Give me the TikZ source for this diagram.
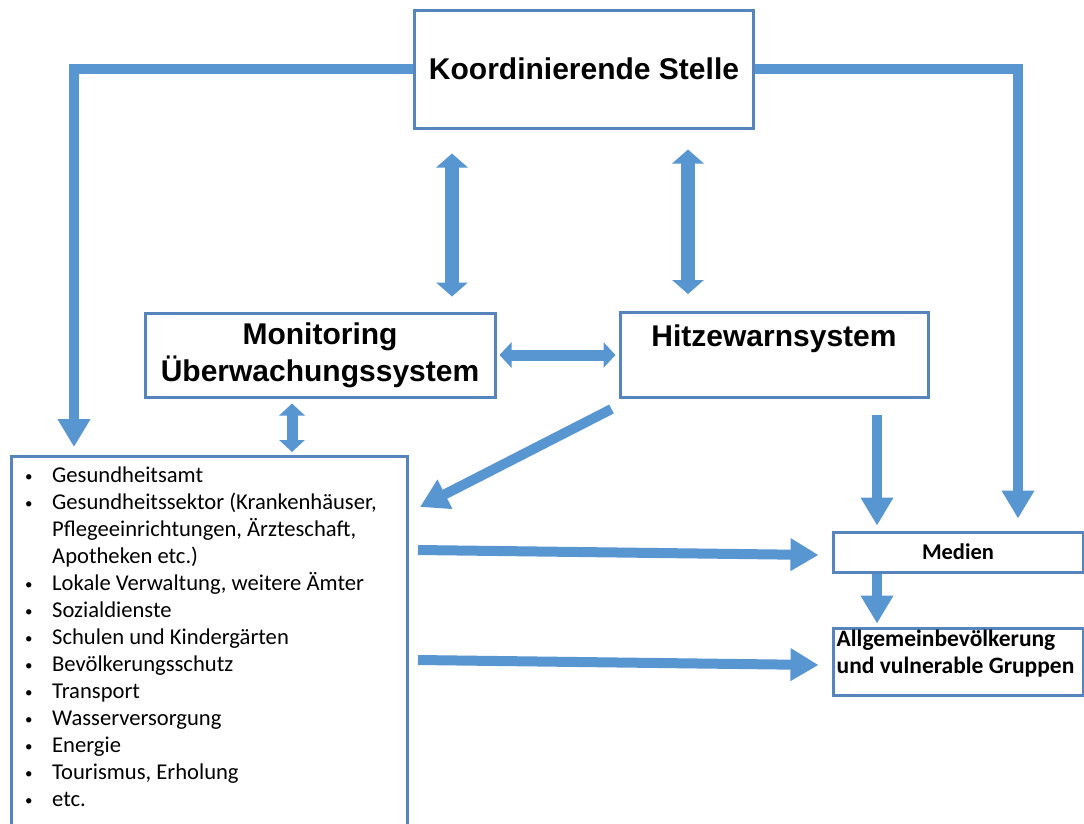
\documentclass[tikz,border=0pt]{standalone}
\usepackage{fontspec}
\usetikzlibrary{arrows.meta}
\newfontfamily\headfont{Liberation Sans}
\newfontfamily\listfont{Carlito}
\definecolor{arrowblue}{RGB}{88,150,210}
\definecolor{boxblue}{RGB}{86,132,188}
\newcommand{\blt}{\makebox[29pt][l]{\hspace*{2pt}\raisebox{1.5pt}{\fontsize{15}{15}\selectfont\textbullet}}}

\begin{document}
\begin{tikzpicture}[x=1pt,y=-1pt,
  box/.style={draw=boxblue,line width=3pt,fill=white,inner sep=0pt},
  flow/.style={draw=arrowblue,line width=10pt,-{Triangle[width=31pt,length=28pt]}},
  twoway/.style={draw=arrowblue,line width=14pt,{Triangle[width=31pt,length=14pt]}-{Triangle[width=31pt,length=14pt]}},
  narrow/.style={line width=11pt,{Triangle[width=25pt,length=12pt]}-{Triangle[width=25pt,length=12pt]}}]
\useasboundingbox (0,0) rectangle (1084,823);
\fill[white] (0,0) rectangle (1084,823);
% boxes:
\node[box,minimum width=339pt,minimum height=118pt,font=\headfont\bfseries\fontsize{30}{37}\selectfont] (koord) at (584,69) {Koordinierende Stelle};
\node[box,minimum width=350pt,minimum height=84pt,align=center,font=\headfont\bfseries\fontsize{30}{37}\selectfont] (mon) at (320,355) {Monitoring\\Überwachungssystem};
\node[box,minimum width=308pt,minimum height=85pt,text depth=38pt,font=\headfont\bfseries\fontsize{30}{37}\selectfont] (hitze) at (774,355) {Hitzewarnsystem};
\node[box,anchor=north west,minimum width=396pt,minimum height=390pt] (list) at (10,455) {};
\node[anchor=north west,inner sep=0pt,align=left,font=\listfont\fontsize{22.6}{27}\selectfont] (listtxt) at ([shift={(13,12)}]list.north west) {%
\blt Gesundheitsamt\\
\blt Gesundheitssektor (Krankenhäuser,\\
\hspace*{29pt}Pflegeeinrichtungen, Ärzteschaft,\\
\hspace*{29pt}Apotheken etc.)\\
\blt Lokale Verwaltung, weitere Ämter\\
\blt Sozialdienste\\
\blt Schulen und Kindergärten\\
\blt Bevölkerungsschutz\\
\blt Transport\\
\blt Wasserversorgung\\
\blt Energie\\
\blt Tourismus, Erholung\\
\blt etc.};
\node[box,minimum width=250pt,minimum height=40pt,font=\listfont\bfseries\fontsize{22.5}{27}\selectfont] (medien) at (958,552) {Medien};
\node[box,minimum width=250pt,minimum height=67pt] (allg) at (958,661.5) {};
\node[anchor=north west,inner sep=0pt,align=left,font=\listfont\bfseries\fontsize{23.5}{27}\selectfont] (allgtxt) at ([shift={(5,3)}]allg.north west) {Allgemeinbevölkerung\\und vulnerable Gruppen};
% arrow columns:
\coordinate (lcol) at (74,0);
\coordinate (rcol) at (1018,0);
\coordinate (kmcol) at (452,0);
\coordinate (khcol) at (688,0);
\coordinate (mlcol) at (292,0);
\coordinate (mcol) at (877,0);
% arrows:
\draw[flow,shorten >=8pt] (koord.west) -| (list.north -| lcol);
\draw[flow,shorten >=12pt] (koord.east) -| (medien.north -| rcol);
\draw[twoway,shorten <=24pt,shorten >=15pt] (koord.south -| kmcol) -- (mon.north -| kmcol);
\draw[twoway,shorten <=20pt,shorten >=17pt] (koord.south -| khcol) -- (hitze.north -| khcol);
\draw[twoway,narrow,shorten <=3pt,shorten >=3pt] (mon.east) -- (hitze.west);
\draw[twoway,narrow,shorten <=5pt,shorten >=3pt] (mon.south -| mlcol) -- (list.north -| mlcol);
\draw[flow] ([shift={(-7,10)}]hitze.south west) -- ([shift={(11,52)}]list.north east);
\draw[flow] ([shift={(9,95)}]list.north east) -- ([shift={(-13,3)}]medien.west);
\draw[flow] ([shift={(9,205)}]list.north east) -- ([shift={(-13,3.5)}]allg.west);
\draw[flow,shorten <=16pt,shorten >=5pt] (hitze.south -| mcol) -- (medien.north -| mcol);
\draw[flow,shorten >=3pt] (medien.south -| mcol) -- (allg.north -| mcol);
\end{tikzpicture}
\end{document}
